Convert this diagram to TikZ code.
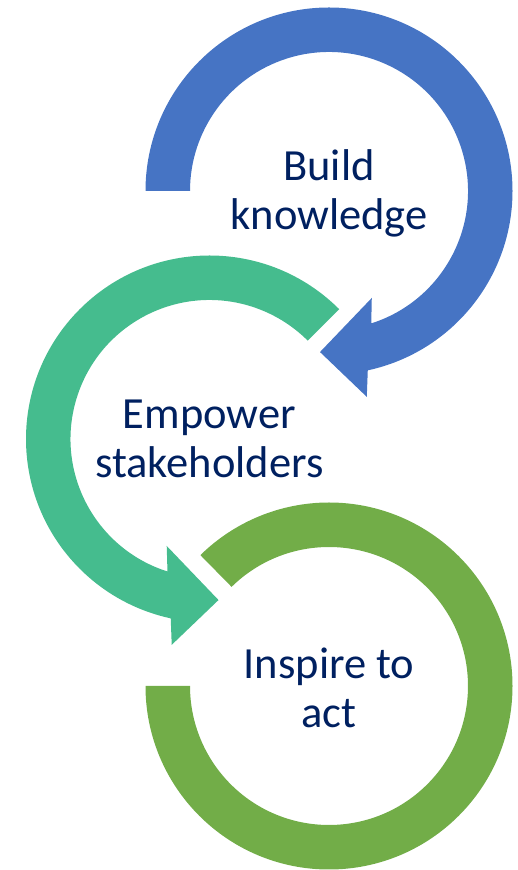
\documentclass[tikz,border=0pt]{standalone}
\usepackage{fontspec}
\setmainfont{Carlito}
\definecolor{buildblue}{HTML}{4674C4}
\definecolor{empowerteal}{HTML}{45BC8E}
\definecolor{inspiregreen}{HTML}{72AD48}
\definecolor{textnavy}{HTML}{002060}
\begin{document}
\begin{tikzpicture}
[
    x=1pt, y=1pt,
    stagetext/.style={text=textnavy, align=center, inner sep=0pt,
        font=\fontsize{44.5}{49}\selectfont},
]
\useasboundingbox (0,0) rectangle (518,870);
\coordinate (build) at (329,679);
\coordinate (empower) at (209.5,431);
\coordinate (inspire) at (329,184);

% blue band, clockwise, head pointing down-left
\fill[buildblue, shift={(build)}]
    (180:183.5) arc[start angle=180, end angle=-77.8, radius=183.5]
    -- (-79.6:209.3) -- (-93.2:161.3) -- (-68.2:115.2)
    -- (-72.3:139) arc[start angle=-72.3, end angle=180, radius=139] -- cycle;
% teal band, counter-clockwise, head pointing right
\fill[empowerteal, shift={(empower)}]
    (45:183.5) arc[start angle=45, end angle=257.8, radius=183.5]
    -- (259.6:209.3) -- (273.2:161.3) -- (248.2:115.2)
    -- (252.4:139) arc[start angle=252.4, end angle=45, radius=139] -- cycle;
% green band, no head
\fill[inspiregreen, shift={(inspire)}]
    (180:183.5) arc[start angle=180, end angle=494.5, radius=183.5]
    -- (494.5:139) arc[start angle=494.5, end angle=180, radius=139] -- cycle;

\node[stagetext, yshift=-2] (buildtext) at (build) {Build\\knowledge};
\node[stagetext] (empowertext) at (empower) {Empower\\stakeholders};
\node[stagetext, yshift=-2] (inspiretext) at (inspire) {Inspire to\\act};
\end{tikzpicture}
\end{document}
